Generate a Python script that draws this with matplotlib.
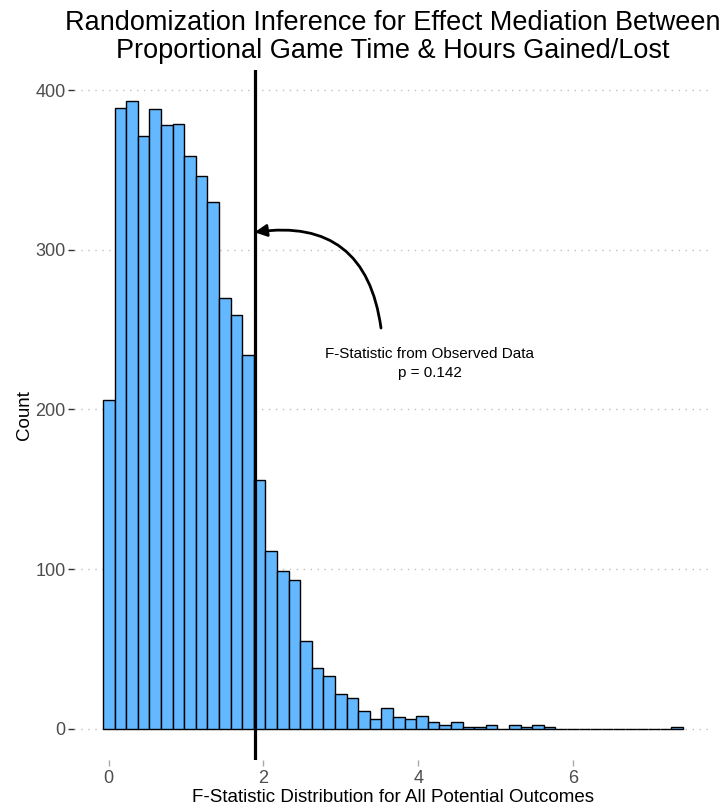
import numpy as np
import matplotlib
matplotlib.use("Agg")
import matplotlib.pyplot as plt

plt.rcParams['font.family'] = ['Liberation Sans', 'DejaVu Sans']

# ---- data ----
counts = [206, 389, 393, 371, 388, 378, 379, 359, 346, 330,
          270, 259, 234, 156, 111, 99, 93, 55, 38, 33,
          22, 19, 11, 6, 13, 7, 6, 8, 4, 2,
          4, 1, 1, 2, 0, 2, 1, 2, 1, 0,
          0, 0, 0, 0, 0, 0, 0, 0, 0, 1]
bin_start = -0.075
bin_width = 0.15
observed_f = 1.885
p_value = 0.142
yticks = [0, 100, 200, 300, 400]
xticks = [0, 2, 4, 6]
title = "Randomization Inference for Effect Mediation Between\nProportional Game Time & Hours Gained/Lost"
xlabel = "F-Statistic Distribution for All Potential Outcomes"
ylabel = "Count"
annot_text = "F-Statistic from Observed Data\np = " + f"{p_value:.3f}"

W, H = 723, 806
fig = plt.figure(figsize=(W / 100, H / 100), dpi=100)
ax = fig.add_axes([74 / W, 1 - 760 / H, 638 / W, 690 / H])

lefts = bin_start + bin_width * np.arange(len(counts))
ax.bar(lefts, counts, width=bin_width, align='edge', color='#63B8FF',
       edgecolor='black', linewidth=1.0, zorder=3)

ax.axvline(observed_f, color='black', linewidth=2.3, zorder=4)

ymax = max(counts)
xmin, xmax = bin_start, bin_start + bin_width * len(counts)
ax.set_xlim(xmin - 0.05 * (xmax - xmin), xmax + 0.05 * (xmax - xmin))
ax.set_ylim(-0.05 * ymax, ymax * 1.05)

ax.set_yticks(yticks)
ax.set_xticks(xticks)
ax.grid(axis='y', color='#BEBEBE', linestyle=(0, (1, 4)), linewidth=1.0, zorder=0)
ax.grid(axis='x', visible=False)
for s in ax.spines.values():
    s.set_visible(False)
ax.tick_params(axis='y', length=4, width=1, color='#333333', labelcolor='#4D4D4D',
               labelsize=13, pad=2)
ax.tick_params(axis='x', length=4, width=1, color='#AAAAAA', labelcolor='#4D4D4D',
               labelsize=13, pad=3)

ax.set_xlabel(xlabel, fontsize=13.5, labelpad=2)
ax.set_ylabel(ylabel, fontsize=13.5, labelpad=2)
ax.set_title(title, fontsize=19.5, pad=9, linespacing=1.1)

ax.annotate("", xy=(observed_f, 311), xytext=(3.52, 251),
            arrowprops=dict(arrowstyle='-|>', connectionstyle='arc3,rad=0.5',
                            lw=2.0, color='black', mutation_scale=18,
                            shrinkA=0, shrinkB=0), zorder=5)
ax.text(4.15, 229, annot_text, ha='center', va='center', fontsize=11,
        linespacing=1.45, zorder=5)

fig.savefig("out.png", dpi=100)
